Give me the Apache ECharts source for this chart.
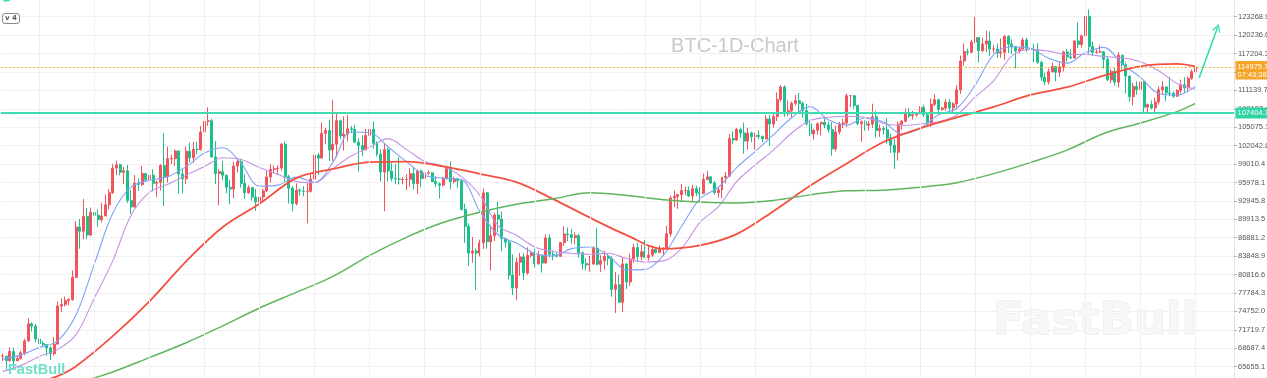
<!DOCTYPE html>
<html>
<head>
<meta charset="utf-8">
<title>BTC-1D-Chart</title>
<script src="https://cdn.jsdelivr.net/npm/echarts@6/dist/echarts.min.js"></script>
<style>
  html, body { margin: 0; padding: 0; background: #fff; }
  #main { width: 1267px; height: 378px; }
</style>
</head>
<body>
<div id="main"></div>
<script>
// daily candles, prices in thousands of USD, first candle = 2024-10-22
var firstOpen = 67.37;
var closes = [
  67.38, 66.65, 68.16, 66.62, 67.01, 67.93, 69.90, 72.72, 72.34, 70.22,
  69.48, 69.30, 68.74, 67.80, 69.37, 75.64, 75.90, 76.54, 76.70, 80.37,
  88.65, 87.95, 90.38, 87.32, 91.06, 90.60, 89.85, 90.46, 92.31, 94.29,
  98.35, 98.89, 97.67, 97.90, 93.01, 91.96, 95.86, 95.64, 97.46, 96.41,
  97.19, 95.84, 96.00, 98.77, 96.94, 99.87, 99.92, 101.17, 97.36, 96.59,
  101.12, 100.04, 101.43, 101.37, 104.30, 106.05, 106.14, 100.20, 97.46, 97.76,
  97.17, 95.19, 94.90, 98.69, 99.39, 95.83, 94.28, 95.14, 93.57, 92.80,
  93.58, 94.59, 96.89, 98.11, 98.24, 98.35, 102.28, 96.95, 95.04, 92.48,
  94.70, 94.57, 94.52, 94.52, 96.53, 100.50, 99.99, 104.08, 104.56, 101.33,
  102.26, 106.15, 103.65, 103.96, 104.82, 104.71, 102.62, 102.08, 101.33, 103.73,
  104.73, 102.43, 100.64, 97.69, 101.40, 97.87, 96.62, 96.55, 96.46, 96.48,
  96.50, 97.43, 95.78, 97.87, 96.62, 97.51, 97.57, 96.12, 95.77, 95.54,
  96.64, 98.30, 96.13, 96.58, 96.26, 91.55, 88.74, 84.35, 84.70, 84.35,
  86.06, 94.27, 86.22, 87.22, 90.62, 89.96, 86.74, 86.15, 80.73, 78.60,
  82.86, 83.72, 81.07, 83.97, 84.34, 82.58, 84.01, 82.72, 86.85, 84.17,
  84.04, 83.83, 86.08, 87.50, 87.39, 86.90, 87.23, 84.42, 82.65, 82.39,
  82.55, 85.16, 82.52, 83.10, 83.84, 83.50, 78.37, 79.13, 76.27, 82.57,
  79.60, 83.40, 85.28, 83.76, 84.59, 83.64, 84.03, 84.95, 84.45, 85.06,
  85.17, 87.52, 93.44, 93.70, 93.98, 94.64, 94.64, 93.75, 94.98, 94.28,
  94.17, 96.49, 96.91, 95.89, 94.32, 94.75, 96.83, 97.03, 103.24, 102.97,
  104.70, 104.12, 102.79, 104.13, 103.51, 103.74, 103.56, 103.15, 106.45, 105.60,
  106.85, 109.65, 111.70, 107.29, 107.79, 109.01, 109.44, 108.99, 107.80, 105.64,
  103.98, 104.59, 105.64, 105.88, 105.43, 104.70, 101.50, 104.29, 105.61, 105.79,
  110.26, 110.26, 108.64, 105.67, 105.98, 105.41, 105.59, 106.79, 104.55, 104.88,
  104.66, 103.30, 102.12, 100.96, 105.58, 106.05, 107.32, 106.95, 107.10, 107.30,
  108.36, 107.14, 105.68, 108.85, 109.60, 107.98, 108.23, 109.20, 108.26, 108.92,
  111.23, 115.99, 117.52, 117.42, 119.09, 119.84, 117.68, 118.76, 119.28, 117.94,
  117.96, 117.29, 117.44, 120.00, 118.75, 118.34, 117.64, 117.95, 119.45, 118.06,
  117.92, 117.83, 115.76, 113.30, 112.55, 114.21, 115.06, 114.12, 115.00, 117.48,
  116.65, 116.49, 119.29, 118.69, 120.13, 123.34, 118.36, 117.40, 117.46, 117.49,
  116.26, 112.87, 114.27, 112.50, 116.94, 115.37, 113.49, 110.11, 111.79, 111.26,
  112.56, 108.38, 108.82, 108.25, 109.24, 111.24, 111.71, 110.72, 110.66, 110.19,
  111.14, 112.07, 111.54, 113.10, 114.20, 114.9757
];
var highs = [
  67.82, 67.45, 68.83, 68.77, 67.45, 68.27, 70.27, 73.62, 72.96, 72.70,
  71.62, 69.88, 69.35, 69.00, 70.55, 76.40, 76.92, 77.20, 76.95, 81.50,
  89.60, 89.96, 93.27, 91.76, 91.85, 91.78, 91.60, 92.63, 94.00, 94.89,
  98.99, 99.59, 99.10, 98.57, 98.87, 94.74, 97.20, 96.65, 98.69, 97.46,
  97.90, 98.15, 96.30, 99.00, 104.09, 101.90, 100.55, 101.40, 101.22, 98.27,
  101.90, 102.54, 102.65, 102.65, 105.25, 107.79, 108.35, 106.47, 102.80, 98.15,
  99.54, 97.29, 96.42, 99.40, 99.96, 99.88, 97.30, 95.52, 95.21, 94.90,
  96.15, 94.95, 97.84, 98.98, 98.77, 98.82, 102.48, 102.72, 97.26, 95.35,
  95.84, 95.00, 95.37, 95.87, 97.37, 100.68, 100.87, 105.86, 104.96, 106.31,
  109.59, 107.24, 106.33, 106.85, 107.10, 105.29, 105.47, 103.22, 103.78, 104.78,
  106.46, 106.01, 102.76, 101.46, 102.50, 101.73, 99.20, 99.00, 100.14, 96.88,
  97.32, 98.35, 98.56, 98.11, 98.08, 98.83, 97.97, 97.72, 97.03, 96.00,
  96.90, 98.76, 99.48, 96.90, 96.67, 96.50, 92.50, 89.29, 87.00, 85.12,
  86.56, 95.00, 94.42, 88.91, 91.00, 92.81, 91.22, 86.85, 86.49, 84.12,
  83.62, 84.36, 84.30, 85.30, 84.67, 85.06, 84.73, 84.00, 87.45, 87.44,
  84.85, 84.50, 86.10, 88.77, 88.50, 88.30, 87.79, 87.52, 84.60, 83.50,
  83.90, 85.50, 88.50, 83.99, 84.72, 84.23, 83.82, 81.24, 80.82, 83.55,
  82.70, 84.25, 85.86, 86.10, 85.80, 86.50, 85.50, 85.47, 85.10, 85.60,
  85.32, 88.83, 93.80, 94.70, 94.00, 95.75, 95.30, 95.35, 95.60, 95.46,
  95.23, 97.44, 97.90, 96.96, 96.20, 95.20, 96.89, 97.73, 103.97, 104.36,
  104.97, 105.00, 105.82, 104.99, 104.36, 104.19, 104.55, 103.71, 107.11, 107.11,
  107.32, 110.80, 111.98, 111.97, 109.47, 109.30, 110.42, 110.72, 109.31, 108.91,
  106.33, 104.85, 105.88, 105.98, 106.81, 106.00, 105.90, 105.33, 105.97, 106.47,
  110.62, 110.40, 110.40, 108.80, 106.20, 106.20, 106.10, 108.95, 107.77, 105.55,
  105.23, 106.55, 104.00, 103.13, 106.00, 106.29, 108.14, 108.23, 107.77, 107.52,
  108.53, 108.79, 107.54, 109.80, 110.53, 109.77, 108.44, 109.73, 109.70, 109.21,
  111.99, 116.87, 118.87, 118.00, 119.49, 123.22, 119.94, 119.80, 120.99, 120.83,
  118.62, 118.86, 119.68, 120.25, 120.25, 119.54, 118.47, 118.30, 119.80, 119.80,
  119.28, 118.80, 118.92, 116.05, 114.04, 114.77, 115.72, 115.13, 115.72, 117.66,
  117.94, 117.90, 119.31, 122.34, 120.32, 123.67, 124.47, 119.22, 117.90, 118.58,
  117.60, 116.80, 114.60, 114.80, 117.43, 117.00, 115.70, 113.60, 112.40, 112.66,
  113.50, 112.67, 108.97, 109.50, 109.92, 111.77, 112.70, 111.80, 113.39, 110.93,
  111.35, 112.90, 113.28, 113.40, 114.60, 116.30
];
var lows = [
  66.57, 65.26, 66.46, 65.52, 66.60, 66.81, 67.53, 69.74, 71.44, 69.68,
  68.82, 69.03, 67.46, 66.77, 67.46, 69.32, 74.70, 75.56, 75.77, 76.49,
  80.22, 85.07, 86.63, 86.67, 87.12, 90.08, 88.70, 89.38, 90.80, 91.54,
  94.11, 97.18, 97.18, 95.73, 92.60, 90.79, 91.80, 94.60, 95.36, 96.16,
  95.77, 94.50, 93.58, 94.66, 92.12, 95.98, 99.03, 98.69, 94.15, 94.26,
  95.69, 99.31, 99.21, 100.61, 101.23, 103.33, 105.32, 100.00, 95.70, 92.23,
  96.40, 94.20, 92.40, 93.40, 97.60, 95.14, 93.29, 94.12, 93.00, 91.31,
  92.77, 92.80, 94.40, 96.00, 97.56, 97.30, 97.90, 96.13, 92.50, 91.20,
  92.20, 93.83, 93.71, 89.26, 94.30, 96.50, 97.27, 99.95, 102.28, 99.52,
  99.55, 100.12, 103.10, 101.26, 102.75, 104.10, 102.46, 97.78, 100.27, 101.30,
  103.30, 101.56, 100.28, 96.15, 91.23, 96.15, 96.15, 95.68, 95.65, 95.69,
  94.75, 95.26, 94.85, 94.09, 95.23, 96.32, 97.23, 96.04, 95.20, 93.34,
  95.35, 96.42, 94.83, 95.79, 95.10, 91.35, 86.05, 82.26, 82.78, 78.26,
  83.82, 85.04, 85.08, 81.50, 86.33, 87.81, 84.67, 85.25, 80.00, 77.46,
  76.61, 80.59, 79.94, 80.80, 83.62, 81.98, 82.46, 81.13, 82.60, 83.65,
  83.17, 83.64, 83.77, 85.50, 86.30, 85.86, 85.80, 83.60, 81.65, 81.50,
  81.30, 82.43, 82.32, 81.21, 81.66, 82.36, 77.15, 74.51, 76.20, 74.62,
  78.45, 78.94, 82.75, 82.96, 83.17, 83.60, 83.10, 83.74, 84.30, 84.40,
  83.95, 85.12, 87.08, 91.94, 91.66, 92.86, 93.87, 93.58, 92.86, 93.73,
  92.91, 94.11, 96.32, 95.76, 93.97, 93.51, 93.38, 95.83, 96.86, 102.32,
  102.81, 103.35, 100.72, 101.40, 102.60, 101.38, 103.10, 102.61, 103.11, 102.00,
  104.99, 106.10, 109.30, 106.80, 106.89, 106.60, 108.68, 107.55, 106.68, 105.34,
  103.63, 103.07, 103.84, 103.70, 104.92, 104.14, 100.40, 101.10, 103.89, 104.96,
  105.10, 108.35, 108.10, 105.40, 102.66, 104.50, 104.50, 104.97, 103.37, 103.50,
  103.86, 102.35, 100.84, 98.20, 99.58, 104.66, 105.85, 106.60, 106.35, 106.82,
  107.22, 106.74, 105.25, 105.12, 108.54, 107.27, 107.80, 107.80, 107.50, 107.46,
  108.34, 110.56, 115.22, 116.90, 117.25, 118.91, 115.74, 117.42, 117.44, 116.81,
  117.27, 116.49, 116.52, 116.12, 117.30, 117.10, 114.72, 117.18, 117.85, 117.43,
  116.95, 115.80, 115.50, 112.72, 112.00, 112.12, 114.11, 112.65, 113.36, 114.26,
  115.86, 116.29, 116.47, 118.12, 118.20, 118.92, 117.18, 116.80, 117.17, 117.30,
  114.72, 112.68, 112.33, 111.90, 111.65, 114.60, 110.60, 109.33, 108.67, 110.40,
  110.84, 107.46, 107.40, 108.00, 107.27, 108.77, 110.50, 109.33, 110.18, 109.90,
  110.05, 110.62, 110.77, 110.93, 112.90, 113.90
];

// moving averages: [candle index, value in thousands]
var maBlue = [
  [0, 66.90], [5, 67.60], [10, 68.80], [15, 69.90], [20, 74.20], [25, 82.58], [30, 90.92], [35, 95.21],
  [40, 96.36], [45, 96.94], [50, 98.59], [55, 100.82], [60, 101.69], [65, 99.09], [70, 95.37], [75, 95.54],
  [80, 96.86], [85, 96.03], [90, 99.33], [95, 104.29], [100, 104.20], [105, 101.86], [110, 99.42], [115, 97.19],
  [120, 96.69], [125, 96.45], [130, 91.25], [135, 87.37], [140, 86.01], [145, 84.31], [150, 83.87], [155, 85.09],
  [160, 85.35], [165, 83.98], [170, 81.56], [175, 81.67], [180, 83.98], [185, 88.77], [190, 93.28], [195, 95.19],
  [200, 98.43], [205, 101.07], [210, 103.82], [215, 106.63], [220, 108.46], [225, 106.30], [230, 105.44], [235, 106.63],
  [240, 105.92], [245, 103.96], [250, 104.90], [255, 107.13], [260, 108.20], [265, 112.04], [270, 117.00], [275, 118.32],
  [280, 118.07], [285, 116.42], [290, 115.63], [295, 117.33], [300, 118.23], [305, 115.51], [310, 113.28], [315, 110.64],
  [320, 110.39], [325, 111.80]
];
var maPurple = [
  [0, 64.87], [5, 65.87], [10, 67.34], [15, 68.50], [20, 70.94], [25, 76.97], [30, 83.07], [35, 90.59],
  [40, 94.35], [45, 95.67], [50, 97.19], [55, 98.62], [60, 100.06], [65, 99.75], [70, 98.43], [75, 97.32],
  [80, 96.12], [85, 95.93], [90, 98.26], [95, 100.34], [100, 101.76], [105, 103.20], [110, 101.43], [115, 99.45],
  [120, 98.67], [125, 96.94], [130, 93.89], [135, 88.89], [140, 87.28], [145, 85.37], [150, 84.61], [155, 84.33],
  [160, 84.13], [165, 84.33], [170, 83.45], [175, 82.88], [180, 83.07], [185, 85.14], [190, 89.43], [195, 91.99],
  [200, 96.12], [205, 98.84], [210, 101.31], [215, 104.12], [220, 106.18], [225, 106.73], [230, 106.88], [235, 106.66],
  [240, 105.69], [245, 105.36], [250, 105.61], [255, 105.99], [260, 107.09], [265, 110.06], [270, 112.70], [275, 116.83],
  [280, 117.90], [285, 117.61], [290, 117.05], [295, 117.05], [300, 116.72], [305, 116.50], [310, 115.87], [315, 114.36],
  [320, 112.26], [325, 111.35]
];
var maRed = [
  [10, 63.12], [15, 64.11], [20, 65.74], [30, 70.69], [40, 76.42], [50, 82.99], [60, 88.64], [70, 92.48],
  [80, 96.69], [90, 98.21], [100, 99.33], [110, 99.42], [120, 98.62], [130, 97.40], [140, 96.03], [150, 93.24],
  [160, 90.19], [170, 87.32], [180, 85.06], [190, 85.63], [200, 87.48], [210, 91.25], [220, 95.44], [230, 99.10],
  [240, 102.64], [250, 104.90], [260, 106.68], [270, 108.41], [280, 110.39], [290, 111.66], [300, 113.58], [310, 115.11],
  [320, 115.51], [325, 115.10]
];
var maGreen = [
  [20, 62.94], [30, 64.79], [40, 67.15], [50, 69.59], [60, 72.38], [70, 75.32], [80, 77.88], [90, 80.52],
  [100, 83.98], [110, 86.95], [120, 89.38], [130, 91.08], [140, 92.40], [150, 93.29], [160, 94.30], [170, 93.84],
  [180, 93.14], [190, 92.78], [200, 92.62], [210, 93.03], [220, 93.94], [230, 94.63], [240, 94.71], [250, 95.21],
  [260, 95.95], [270, 97.44], [280, 99.25], [290, 101.31], [300, 104.04], [310, 105.77], [320, 107.64], [325, 108.99]
];

// right-hand price scale
var priceTicks = [
  '65655.1', '68687.4', '71719.7', '74752.0', '77784.3', '80816.6', '83848.9', '86881.2',
  '89913.5', '92945.8', '95978.1', '99010.4', '102042.8', '105075.1', '108107.4', '111139.7',
  '114172.0', '117204.3', '120236.6', '123268.9', '126301.2'
];
var supportLevel = 107404.3;
var countdown = '07:43:38';
var arrowFrom = [326, 113200];
var arrowTo = [331, 121450];

var TOTAL_SLOTS = 336;
var categories = [];
var d0 = Date.UTC(2024, 9, 22);
for (var i = 0; i < TOTAL_SLOTS; i++) {
  categories.push(new Date(d0 + i * 86400000).toISOString().slice(0, 10));
}

var candles = closes.map(function (c, i) {
  var o = i ? closes[i - 1] : firstOpen;
  return [o * 1000, c * 1000, lows[i] * 1000, highs[i] * 1000];
});
var lastPrice = closes[closes.length - 1] * 1000;

function k2usd(arr) {
  return arr.map(function (p) { return [p[0], p[1] * 1000]; });
}

var vLines = [];
for (var j = 10; j < TOTAL_SLOTS; j += 15) vLines.push({ xAxis: j });

var axisFont = '"Liberation Sans", Arial, sans-serif';
var UP = '#f2545b', DOWN = '#1dbf8c';

function maSeries(name, data, color, width) {
  return {
    name: name, type: 'line', data: k2usd(data), smooth: 0.35, symbol: 'none',
    lineStyle: { color: color, width: width }, silent: true, z: 3
  };
}

var option = {
  animation: false,
  backgroundColor: '#ffffff',
  grid: { left: 0.8, right: 33, top: -1.7, bottom: -7.1, containLabel: false, outerBoundsMode: 'none' },
  xAxis: {
    type: 'category', data: categories, boundaryGap: true, show: false
  },
  yAxis: [
    { type: 'value', min: 62622.77, max: 126301.21, show: false, splitLine: { show: false } },
    {
      type: 'value', min: 0, max: 21, interval: 1, position: 'right',
      axisLine: { show: true, lineStyle: { color: '#e3e3e3' } },
      axisTick: { show: true, length: 3, lineStyle: { color: '#b5b5b5' } },
      splitLine: { show: true, lineStyle: { color: '#f0f0f0', width: 1 } },
      axisLabel: {
        margin: 4, fontSize: 7.5, color: '#555', fontFamily: axisFont,
        showMaxLabel: true, hideOverlap: false,
        formatter: function (v) { return v >= 1 ? priceTicks[v - 1] : ''; }
      }
    }
  ],
  series: [
    {
      type: 'line', data: [], silent: true, z: 1,
      markLine: {
        silent: true, symbol: 'none', animation: false,
        label: { show: false },
        lineStyle: { color: '#f0f0f0', width: 1, type: 'solid' },
        data: vLines
      }
    },
    {
      name: 'BTC', type: 'candlestick', data: candles, barWidth: '68%',
      itemStyle: { color: UP, color0: DOWN, borderColor: UP, borderColor0: DOWN, borderWidth: 1 },
      z: 2,
      markLine: {
        silent: true, animation: false, symbol: 'none',
        label: { show: false },
        data: [
          { yAxis: supportLevel, lineStyle: { color: '#3fdcb2', width: 2, type: 'solid' } },
          { yAxis: lastPrice, lineStyle: { color: '#f6ad3c', width: 1, type: [2, 2] } },
          [
            { coord: arrowFrom, symbol: 'none' },
            {
              coord: arrowTo, symbol: 'path://M0,10 L5,0 L10,10 L8.4,10 L5,3.2 L1.6,10 Z', symbolSize: [9, 8],
              lineStyle: { color: '#2fdcb0', width: 1.5, type: 'solid' }
            }
          ]
        ]
      }
    },
    maSeries('MA10', maBlue, '#7ea2f4', 1.1),
    maSeries('MA20', maPurple, '#c592e4', 1.1),
    maSeries('MA60', maRed, '#f4503f', 1.8),
    maSeries('MA200', maGreen, '#5fb55c', 1.5)
  ]
};

var chart = echarts.init(document.getElementById('main'));
chart.setOption(option);

var yLast = chart.convertToPixel({ yAxisIndex: 0 }, lastPrice);
var ySup = chart.convertToPixel({ yAxisIndex: 0 }, supportLevel);
var boxX = 1235.5;
chart.setOption({
  graphic: [
    {
      type: 'text', x: 735, y: 46, z: 0, silent: true,
      style: {
        text: 'BTC-1D-Chart', fill: '#c9c9c9', font: '20px "Liberation Sans", Arial, sans-serif',
        textAlign: 'center', textVerticalAlign: 'middle'
      }
    },
    {
      type: 'text', x: 993, y: 300, z: 0, silent: true,
      style: {
        text: 'FastBull', fill: '#f7f7f7', stroke: '#e6e6e6', lineWidth: 1,
        font: 'bold 45px "DejaVu Sans", sans-serif'
      }
    },
    {
      type: 'text', x: 8, y: 362, z: 10, silent: true,
      style: { text: 'FastBull', fill: '#6fe0c8', font: 'bold 14.5px "Liberation Sans", Arial, sans-serif' }
    },
    {
      type: 'rect', x: 3, y: -3, z: 10, silent: true,
      shape: { width: 7, height: 4.5, r: 2 }, style: { fill: '#3fdcb2' }
    },
    {
      type: 'rect', x: 2.5, y: 13.5, z: 10, silent: true,
      shape: { width: 17, height: 10, r: 2.5 }, style: { fill: '#fff', stroke: '#8a8a8a', lineWidth: 1 }
    },
    {
      type: 'text', x: 5, y: 14.5, z: 11, silent: true,
      style: { text: 'v 4', fill: '#555', font: 'bold 7px "DejaVu Sans", sans-serif' }
    },
    {
      type: 'rect', x: boxX, y: yLast - 6, z: 20, silent: true,
      shape: { width: 32, height: 18.5 }, style: { fill: '#f6a428' }
    },
    {
      type: 'text', x: boxX + 2, y: yLast, z: 21, silent: true,
      style: { text: (lastPrice).toFixed(1), fill: '#fff', font: '7.5px ' + axisFont, textVerticalAlign: 'middle' }
    },
    {
      type: 'text', x: boxX + 2, y: yLast + 7.5, z: 21, silent: true,
      style: { text: countdown, fill: '#fff', font: '7.5px ' + axisFont, textVerticalAlign: 'middle' }
    },
    {
      type: 'rect', x: boxX, y: ySup - 5.5, z: 20, silent: true,
      shape: { width: 32, height: 11 }, style: { fill: '#2ed3a6' }
    },
    {
      type: 'text', x: boxX + 2, y: ySup, z: 21, silent: true,
      style: { text: supportLevel.toFixed(1), fill: '#fff', font: '7.5px ' + axisFont, textVerticalAlign: 'middle' }
    }
  ]
});
</script>
</body>
</html>
